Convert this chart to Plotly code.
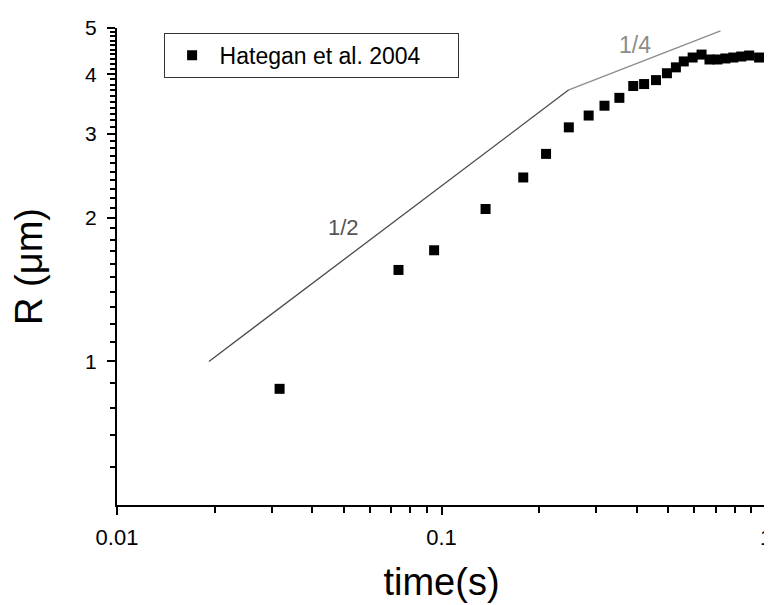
import math
import plotly.graph_objects as go

# Data (Hategan et al. 2004)
time_s = [0.0317, 0.0737, 0.0949, 0.1367, 0.1786, 0.2100, 0.2468, 0.2841, 0.3179,
          0.3533, 0.3898, 0.4211, 0.4582, 0.4951, 0.5276, 0.5579, 0.5942, 0.6330,
          0.6696, 0.7085, 0.7496, 0.7929, 0.8388, 0.8873, 0.9520]
radius_um = [0.876, 1.555, 1.710, 2.087, 2.430, 2.723, 3.095, 3.277, 3.436,
             3.569, 3.779, 3.815, 3.888, 4.019, 4.135, 4.255, 4.336, 4.398,
             4.295, 4.295, 4.316, 4.336, 4.357, 4.378, 4.336]

# Guide lines (power laws with exponent 1/2 and 1/4)
half_x = [0.0192, 0.2468]
half_y = [1.0, 3.71]
quarter_x = [0.2468, 0.724]
quarter_y = [3.71, 4.93]

x_ticks = [0.01, 0.1, 1]
x_ticktext = ["0.01", "0.1", "1"]
x_minor = [k * 0.01 for k in range(2, 10)] + [k * 0.1 for k in range(2, 10)]
y_ticks = [1, 2, 3, 4, 5]
y_ticktext = ["1", "2", "3", "4", "5"]
y_minor = [0.6, 0.7, 0.8, 0.9] + [round(1 + 0.1 * k, 2) for k in range(1, 40) if k % 10 != 0]

FONT = "Arial, Liberation Sans, sans-serif"

fig = go.Figure()
fig.add_trace(go.Scatter(x=half_x, y=half_y, mode="lines",
                         line=dict(color="#4a4a4a", width=1.3), showlegend=False,
                         hoverinfo="skip"))
fig.add_trace(go.Scatter(x=quarter_x, y=quarter_y, mode="lines",
                         line=dict(color="#8c8c8c", width=1.3), showlegend=False,
                         hoverinfo="skip"))
fig.add_trace(go.Scatter(x=time_s, y=radius_um, mode="markers",
                         name="Hategan et al. 2004",
                         marker=dict(symbol="square", size=10, color="black",
                                     line=dict(width=0))))

fig.add_annotation(x=math.log10(0.0500), y=math.log10(1.907), xref="x", yref="y",
                   text="1/2", showarrow=False,
                   font=dict(family=FONT, size=22, color="#555555"))
fig.add_annotation(x=math.log10(0.395), y=math.log10(4.61), xref="x", yref="y",
                   text="1/4", showarrow=False,
                   font=dict(family=FONT, size=23, color="#8c8c8c"))

# the page body adds an 8 px offset, margins compensate for it
fig.update_layout(
    width=772, height=605,
    margin=dict(l=109, r=8, t=12, b=108),
    plot_bgcolor="white", paper_bgcolor="white",
    font=dict(family=FONT, color="black"),
    legend=dict(x=0.0718, y=0.990, xanchor="left", yanchor="top",
                bordercolor="#333333", borderwidth=1,
                font=dict(family=FONT, size=23, color="black"),
                orientation="h", entrywidth=233, entrywidthmode="pixels",
                itemwidth=45, bgcolor="white"),
)
fig.update_xaxes(type="log", range=[-2, 0],
                 tickvals=x_ticks, ticktext=x_ticktext,
                 showline=True, linecolor="black", linewidth=2,
                 ticks="outside", ticklen=8, tickwidth=1.5, tickcolor="black",
                 minor=dict(tickvals=x_minor, ticks="outside", ticklen=6,
                            tickwidth=1.5, tickcolor="black", showgrid=False),
                 showgrid=False, zeroline=False,
                 ticklabelstandoff=4,
                 tickfont=dict(family=FONT, size=22),
                 title=dict(text="time(s)", font=dict(family=FONT, size=38), standoff=19))
fig.update_yaxes(type="log", range=[math.log10(0.5), math.log10(5)],
                 tickvals=y_ticks, ticktext=y_ticktext,
                 showline=True, linecolor="black", linewidth=2,
                 ticks="outside", ticklen=8, tickwidth=1.5, tickcolor="black",
                 minor=dict(tickvals=y_minor, ticks="outside", ticklen=5,
                            tickwidth=1.5, tickcolor="black", showgrid=False),
                 showgrid=False, zeroline=False,
                 ticklabelstandoff=6,
                 tickfont=dict(family=FONT, size=21),
                 title=dict(text="R (μm)", font=dict(family=FONT, size=38), standoff=38))

fig.write_html("out.html")
